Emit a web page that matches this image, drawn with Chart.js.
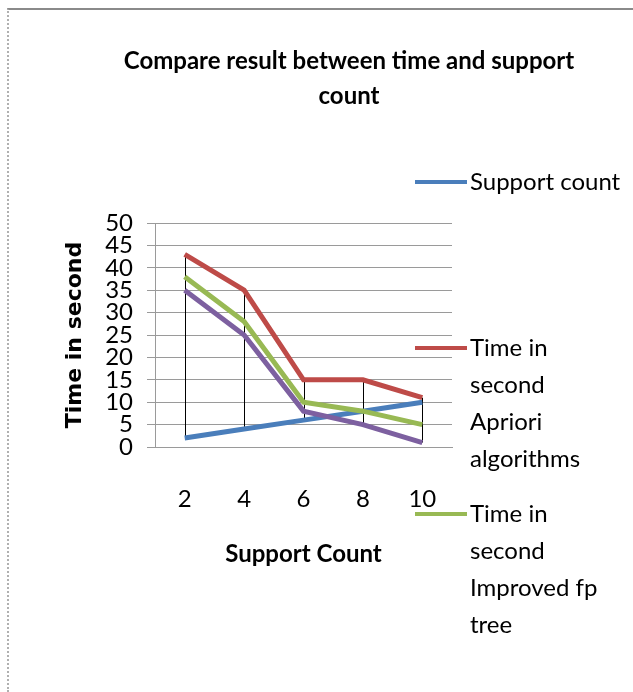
<!DOCTYPE html>
<html>
<head>
<meta charset="utf-8">
<script src="https://cdn.jsdelivr.net/npm/chart.js@4.4.1/dist/chart.umd.min.js"></script>
<style>
  body { margin: 0; background: #fff; }
  #wrap { position: relative; width: 633px; height: 692px; }
  #frame { position: absolute; left: 7px; top: 8px; right: 0; bottom: 0;
           border-top: 2px solid #8a8a8a; border-left: 2px dotted #b0b0b0; }
  #chart { position: absolute; left: 0; top: 0; }
</style>
</head>
<body>
<div id="wrap">
  <div id="frame"></div>
  <canvas id="chart" width="633" height="692"></canvas>
</div>
<script>
const categories = ["2", "4", "6", "8", "10"];
const supportCount = [2, 4, 6, 8, 10];
const aprioriTime = [43, 35, 15, 15, 11];
const improvedFpTime = [38, 28, 10, 8, 5];
const fpGrowthTime = [35, 25, 8, 5, 1];
const yMax = 50;
const yStep = 5;

const titleLines = ["Compare result between time and support", "count"];
const legendText = [
  ["Support count"],
  ["Time in", "second", "Apriori", "algorithms"],
  ["Time in", "second", "Improved fp", "tree"]
];

const FONT = 'Lato, "Noto Sans", sans-serif';

// black high-low lines at each category
const dropLines = {
  id: "dropLines",
  beforeDatasetsDraw(chart) {
    const { ctx, scales } = chart;
    const sets = chart.data.datasets.map(d => d.data);
    ctx.save();
    ctx.strokeStyle = "#000";
    ctx.lineWidth = 1;
    categories.forEach((c, i) => {
      const vals = sets.map(s => s[i]);
      const x = Math.round(scales.x.getPixelForValue(i)) + 0.5;
      ctx.beginPath();
      ctx.moveTo(x, scales.y.getPixelForValue(Math.max(...vals)));
      ctx.lineTo(x, scales.y.getPixelForValue(Math.min(...vals)));
      ctx.stroke();
    });
    ctx.restore();
  }
};

// title and legend placed like the original sheet
const decor = {
  id: "decor",
  afterDraw(chart) {
    const ctx = chart.ctx;
    ctx.save();
    ctx.fillStyle = "#000";
    ctx.textAlign = "center";
    ctx.textBaseline = "middle";
    ctx.font = "bold 24px " + FONT;
    ctx.fillText(titleLines[0], 349, 61);
    ctx.fillText(titleLines[1], 349, 96);

    const starts = [182, 348, 514];
    ctx.textAlign = "left";
    ctx.font = "24px " + FONT;
    legendText.forEach((lines, k) => {
      const ds = chart.data.datasets[k];
      const y = starts[k];
      ctx.strokeStyle = ds.borderColor;
      ctx.lineWidth = 4;
      ctx.beginPath();
      ctx.moveTo(415, y);
      ctx.lineTo(467, y);
      ctx.stroke();
      ctx.fillStyle = "#000";
      lines.forEach((t, j) => ctx.fillText(t, 470, y + j * 37));
    });
    ctx.restore();
  }
};

new Chart(document.getElementById("chart"), {
  type: "line",
  data: {
    labels: categories,
    datasets: [
      { label: "Support count", data: supportCount, borderColor: "#4A7EBB", order: 4 },
      { label: "Time in second Apriori algorithms", data: aprioriTime, borderColor: "#BE4B48", order: 3 },
      { label: "Time in second Improved fp tree", data: improvedFpTime, borderColor: "#98B954", order: 2 },
      { label: "Time in second FP growth", data: fpGrowthTime, borderColor: "#7D60A0", order: 1 }
    ]
  },
  options: {
    responsive: false,
    animation: false,
    elements: {
      line: { borderWidth: 5, tension: 0, fill: false },
      point: { radius: 0, hoverRadius: 0 }
    },
    layout: { padding: { top: 223, right: 181, bottom: 0, left: 0 } },
    plugins: {
      legend: { display: false },
      title: { display: false },
      tooltip: { enabled: false }
    },
    scales: {
      x: {
        offset: true,
        grid: { display: false, drawTicks: false },
        border: { display: true, color: "#9a9a9a", width: 1 },
        ticks: { color: "#000", padding: 38, font: { family: FONT, size: 24 } },
        title: {
          display: true, text: "Support Count", color: "#000",
          font: { family: FONT, size: 24, weight: "bold" },
          padding: { top: 0, bottom: 123 }
        },
        afterFit(s) { s.height = 245; }
      },
      y: {
        min: 0, max: yMax,
        grid: { color: "#9a9a9a", lineWidth: 1, tickLength: 8 },
        border: { display: true, color: "#9a9a9a", width: 1 },
        ticks: { stepSize: yStep, autoSkip: false, color: "#000", padding: 14,
                 font: { family: FONT, size: 24, lineHeight: 0.9 } },
        title: {
          display: true, text: "Time in second", color: "#000",
          font: { family: '"DejaVu Sans", sans-serif', size: 22, weight: "bold" },
          padding: { top: 62, bottom: 0 }
        },
        afterFit(s) { s.width = 155; }
      }
    }
  },
  plugins: [dropLines, decor]
});
</script>
</body>
</html>
